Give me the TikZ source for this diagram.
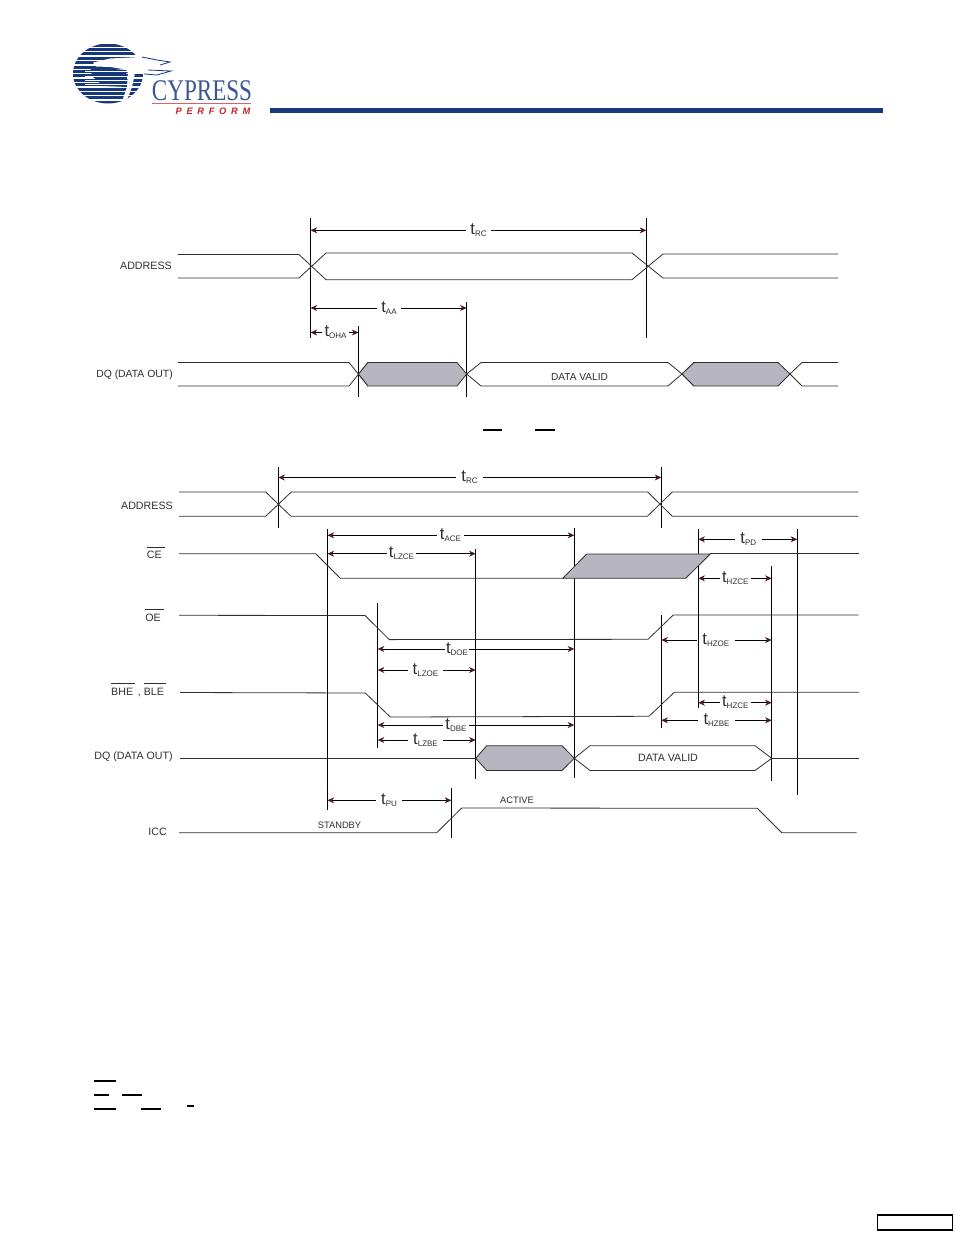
\documentclass[tikz,border=0pt]{standalone}
\usepackage{fontspec}
\setmainfont{Liberation Sans}
\newfontfamily\logoserif{Liberation Serif}
\usetikzlibrary{arrows.meta}
\definecolor{logoblue}{HTML}{17397B}
\definecolor{logored}{HTML}{C8202C}
\definecolor{blobgray}{HTML}{B7B6C0}
\definecolor{tipred}{HTML}{4A1A1A}
\definecolor{textgray}{HTML}{2E2E2E}
\tikzset{
	wave/.style={line width=0.6pt, color=black!82},
	guideline/.style={line width=0.7pt, color=black},
	timeline/.style={line width=0.6pt, color=black, -{Stealth[length=5pt,width=4.5pt,inset=1.6pt,color=tipred]}},
	timelabel/.style={inner sep=0pt, text height=8pt, text depth=2pt, text=textgray, align=center},
	siglabel/.style={inner sep=0pt, anchor=east, font=\fontsize{8}{9}\selectfont, text=textgray},
	smalllabel/.style={inner sep=0pt, font=\fontsize{7}{8}\selectfont, text=textgray},
	databar/.style={line width=1.5pt, color=black},
}
\newcommand{\tsub}[1]{{\fontsize{12.5}{13}\selectfont t}\raisebox{-1.5pt}{\fontsize{6}{7}\selectfont #1}}
\newcommand{\barred}[2]{$\overline{\mbox{\rule{0pt}{7.4pt}#1#2}}$}
% name, x, top, bottom
\newcommand{\guide}[4]{
	\coordinate (#1) at (#2,#3);
	\coordinate (#1b) at (#2,#4);
	\draw [guideline] (#1) -- (#1b);
}
% name, x, y, gap, left guide, right guide, subscript
\newcommand{\timedim}[7]{
	\node [timelabel, minimum width=#4*0.75pt] (#1) at (#2,#3) {\tsub{#7}};
	\draw [timeline] (#1) -- (#5 |- #1);
	\draw [timeline] (#1) -- (#6 |- #1);
}
\begin{document}
\begin{tikzpicture}[x=0.75pt,y=-0.75pt]
	\useasboundingbox (0,0) rectangle (954,1235);

	% logo
	\begin{scope}
		\clip (108,73.5) ellipse [x radius=35, y radius=30];
		\foreach \sy in {45,49.4,...,104}
			\fill [logoblue] (70,\sy-1.5) rectangle (145,\sy+1.5);
		\fill [logoblue] (90,67) -- (126,70) -- (128,87) -- (103,86) -- (92,76) -- cycle;
		\foreach \sy in {71.6,76,80.4,84.8}
			\draw [white, line width=0.5pt] (85,\sy) -- (130,\sy);
	\end{scope}
	\fill [white] (93,62.5) -- (110,58.5) -- (140,57) -- (157,60) -- (170,62) -- (160,65) -- (152,67) -- (171,71) -- (157,75) -- (140,73) -- (135,73) -- (132,87) -- (126,102.5) -- (122,101.5) -- (127,87) -- (128,73) -- (126,69.5) -- (110,67) -- (96,66.5) -- cycle;
	\draw [logoblue, line width=0.6pt] (142,57) -- (157,60) -- (170,62) -- (160,65);
	\draw [logoblue, line width=0.6pt] (148,70) -- (171,71) -- (157,75) -- (144,74);
	\node [inner sep=0pt, xscale=0.77, transform shape, font=\logoserif\fontsize{22.5}{23}\selectfont, text=logoblue!85] (logotext) at (202,90.5) {CYPRESS};
	\draw [logored!70, line width=0.5pt] (152,103) -- (251,103);
	\node [inner sep=0pt, font=\fontsize{7}{8}\selectfont\bfseries\itshape\addfontfeature{LetterSpace=50}, text=logored] (logoperform) at (213,111) {PERFORM};
	\fill [logoblue] (270,107.7) rectangle (883,112.7);

	% first diagram
	\guide{aa}{310.5}{218}{338}
	\guide{ab}{646.3}{218}{338}
	\guide{ac}{358.5}{326}{397}
	\guide{ad}{466.7}{302}{397}
	\draw [wave] (178,254.5) -- (299,254.5) -- (326,279.7) -- (632,279.7) -- (663,254) -- (838,254);
	\draw [wave] (178,278) -- (299,278) -- (326,253) -- (632,253) -- (663,278) -- (838,278);
	\draw [wave] (178,362.5) -- (349,362.5) -- (368,386);
	\draw [wave] (178,386) -- (349,386) -- (368,362.5);
	\draw [wave, fill=blobgray] (358.5,374) -- (368,362.5) -- (457,362.5) -- (466.7,374) -- (457,386) -- (368,386) -- cycle;
	\draw [wave] (466.7,374) -- (481,362.5) -- (668,362.5) -- (682,374) -- (694,386);
	\draw [wave] (466.7,374) -- (481,386) -- (668,386) -- (682,374) -- (694,362.5);
	\draw [wave, fill=blobgray] (682,374) -- (694,362.5) -- (778,362.5) -- (790,374) -- (778,386) -- (694,386) -- cycle;
	\draw [wave] (790,374) -- (802,362.5) -- (838,362.5);
	\draw [wave] (790,374) -- (802,386) -- (838,386);
	\timedim{trca}{478.5}{230.3}{25}{aa}{ab}{RC}
	\timedim{taa}{389}{308}{24}{aa}{ad}{AA}
	\timedim{toha}{335.5}{332.5}{27}{aa}{ac}{OHA}
	\node [siglabel] (addra) at (172,265.5) {ADDRESS};
	\node [siglabel, font=\fontsize{7.8}{9}\selectfont] (dqa) at (173,374.5) {DQ (DATA OUT)};
	\node [smalllabel, font=\fontsize{7.6}{9}\selectfont] (valida) at (579.5,377) {DATA VALID};
	\draw [databar] (483,429.5) -- (502,429.5);
	\draw [databar] (535,429.5) -- (555,429.5);

	% second diagram
	\guide{ba}{278.3}{467}{528}
	\guide{bb}{661.3}{467}{528}
	\guide{bc}{327.5}{529.3}{809.7}
	\guide{bd}{475.7}{549.3}{779.3}
	\guide{be}{574.3}{528.3}{778.3}
	\guide{bf}{698.3}{529.3}{707.7}
	\guide{bg}{771.7}{566}{780.7}
	\guide{bh}{797.3}{529.3}{794.7}
	\guide{bi}{377.7}{603.3}{748.3}
	\guide{bj}{661.3}{615}{728.3}
	\guide{bk}{451.3}{788.3}{837.7}
	\draw [wave] (179,492) -- (265.7,492) -- (291,516.3) -- (647.3,516.3) -- (672.3,492) -- (858.3,492);
	\draw [wave] (179,516.3) -- (265.7,516.3) -- (291.3,492) -- (647.7,492) -- (672.3,516.3) -- (858.3,516.3);
	\draw [wave] (179,553.7) -- (315.7,553.7) -- (340.3,578.3) -- (562.7,578.3);
	\draw [wave, fill=blobgray] (562.7,578.3) -- (586.7,554) -- (710.3,554) -- (685.7,578.3) -- cycle;
	\draw [wave] (710.3,553.7) -- (858.7,553.7);
	\draw [wave] (179,615.3) -- (365,615.5) -- (389.3,639.6) -- (648,639.3) -- (673.3,615) -- (858.7,615);
	\draw [wave] (180,692.5) -- (365.3,693) -- (390.3,717) -- (649,716.3) -- (674.3,692.3) -- (859,692.3);
	\draw [wave] (180,758.3) -- (475.7,758.3);
	\draw [wave, fill=blobgray] (475.7,758.3) -- (486.7,745.7) -- (562,745.7) -- (574.3,758.3) -- (562,770.5) -- (486.7,770.5) -- cycle;
	\draw [wave] (574.3,758.3) -- (590,745.7) -- (755,745.7) -- (771.7,758.3) -- (755,770.5) -- (590,770.5) -- cycle;
	\draw [wave] (771.7,758.3) -- (859,758.3);
	\draw [wave] (179,832.7) -- (436.7,832.7) -- (461.7,808) -- (757.3,808.3) -- (781.7,832.7) -- (856.7,832.7);
	\timedim{trcb}{469.5}{477.5}{27}{ba}{bb}{RC}
	\timedim{tace}{450.5}{535.3}{27}{bc}{be}{ACE}
	\timedim{tlzce}{401.5}{553.7}{29}{bc}{bd}{LZCE}
	\timedim{tdoe}{457}{649}{24}{bi}{be}{DOE}
	\timedim{tlzoe}{425.5}{670}{35}{bi}{bd}{LZOE}
	\timedim{tdbe}{456}{725}{26}{bi}{be}{DBE}
	\timedim{tlzbe}{425.5}{740}{35}{bi}{bd}{LZBE}
	\timedim{tpu}{389}{800.3}{25}{bc}{bk}{PU}
	\timedim{tpd}{748.3}{539.3}{27}{bf}{bh}{PD}
	\timedim{thzcea}{735.3}{578.3}{31}{bf}{bg}{HZCE}
	\timedim{thzoe}{715.8}{640}{38}{bj}{bg}{HZOE}
	\timedim{thzceb}{735.3}{702.7}{31}{bf}{bg}{HZCE}
	\timedim{thzbe}{716.5}{720.3}{37}{bj}{bg}{HZBE}
	\node [siglabel] (addrb) at (173,505.5) {ADDRESS};
	\node [siglabel] (ce) at (165.5,552.5) {\barred{CE}{\,\,}};
	\node [siglabel] (oe) at (164.5,615) {\barred{OE}{\,\,}};
	\node [siglabel] (bx) at (166,689.5) {\barred{BHE}{\,} , \barred{BLE}{\,}};
	\node [siglabel] (dqb) at (173,757) {DQ (DATA OUT)};
	\node [siglabel] (icc) at (167,831.5) {ICC};
	\node [smalllabel, font=\fontsize{8}{9}\selectfont] (validb) at (668,757.5) {DATA VALID};
	\node [smalllabel] (standby) at (339.5,825) {STANDBY};
	\node [smalllabel] (active) at (517,800) {ACTIVE};

	% leftover bars and page box
	\draw [databar] (94,1081) -- (116,1081);
	\draw [databar] (94,1095) -- (109,1095);
	\draw [databar] (122,1095) -- (142,1095);
	\draw [databar] (94,1109.3) -- (116,1109.3);
	\draw [databar] (141,1109.3) -- (161,1109.3);
	\draw [databar, line width=1pt] (187,1106) -- (194,1106);
	\draw [line width=1.1pt] (877.5,1215) rectangle (952.5,1230);
\end{tikzpicture}
\end{document}
